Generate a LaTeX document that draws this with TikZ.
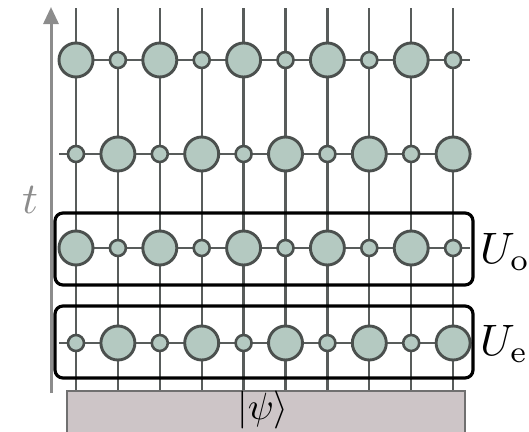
\documentclass[tikz,border=0pt]{standalone}
\usepackage{graphicx}
\usetikzlibrary{arrows.meta}
\definecolor{gatefill}{HTML}{B4C9C1}
\definecolor{gateedge}{HTML}{4B504E}
\definecolor{wire}{HTML}{585C5B}
\definecolor{axisgray}{HTML}{8C8C8C}
\definecolor{statefill}{HTML}{CDC5C7}
\definecolor{stateedge}{HTML}{707070}
\tikzset{
  wireline/.style={draw=wire, line width=2.3pt},
  biggate/.style={circle, draw=gateedge, fill=gatefill, line width=2.9pt, minimum size=34pt, inner sep=0pt},
  smallgate/.style={circle, draw=gateedge, fill=gatefill, line width=2.6pt, minimum size=16pt, inner sep=0pt},
  layerbox/.style={draw=black, line width=3.2pt, rounded corners=8pt},
  statebox/.style={draw=stateedge, fill=statefill, line width=1.6pt},
  biglabel/.style={inner sep=0pt},
}
\begin{document}
\begin{tikzpicture}[x=1pt, y=-1pt]
  \useasboundingbox (0,0) rectangle (529,431);
  \clip (0,0) rectangle (529,431);

  % initial state
  \node[statebox, minimum width=398pt, minimum height=50pt, anchor=north west, inner sep=0pt] (psi) at (66,390) {};
  \node[biglabel] (psilabel) at (263,410) {\scalebox{3.8}{$|\psi\rangle$}};

  % vertical wires
  \foreach \i in {0,...,9} {
    \coordinate (top\i) at ({76+\i*41.9},8);
    \coordinate (bot\i) at ({76+\i*41.9},390);
    \draw[wireline] (top\i) -- (bot\i);
  }

  % horizontal bonds of each layer
  \foreach \r/\y in {1/60, 2/154, 3/248, 4/343} {
    \coordinate (left\r) at (59,\y);
    \coordinate (right\r) at (470,\y);
    \draw[wireline] (left\r) -- (right\r);
  }

  % gates: rows 1 and 3 start with a large one, rows 2 and 4 with a small one
  \foreach \r/\y/\p in {1/60/0, 2/154/1, 3/248/0, 4/343/1} {
    \foreach \i in {0,...,9} {
      \pgfmathtruncatemacro{\k}{mod(\i+\p,2)}
      \ifnum\k=0
        \node[biggate] (g\r-\i) at ({76+\i*41.9},\y) {};
      \else
        \node[smallgate] (g\r-\i) at ({76+\i*41.9},\y) {};
      \fi
    }
  }

  % layer frames
  \draw[layerbox] (55,213) rectangle (473,285);
  \draw[layerbox] (55,306) rectangle (473,378);
  \node[biglabel, anchor=west] (uo) at (480,252) {\scalebox{4.4}{$U_{\mathrm{o}}$}};
  \node[biglabel, anchor=west] (ue) at (480,344) {\scalebox{4.4}{$U_{\mathrm{e}}$}};

  % time axis
  \coordinate (tbot) at (51,393);
  \coordinate (ttop) at (51,7);
  \draw[axisgray, line width=3pt, -{Triangle[length=17pt, width=15pt]}] (tbot) -- (ttop);
  \node[biglabel, text=axisgray] (t) at (30,200) {\scalebox{4.4}{$t$}};
\end{tikzpicture}
\end{document}
